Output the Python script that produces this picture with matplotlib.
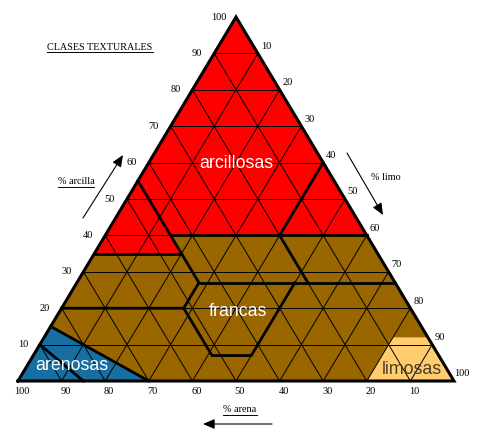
import matplotlib
matplotlib.use('Agg')
import matplotlib.pyplot as plt
from matplotlib.patches import Polygon
from matplotlib.lines import Line2D
from matplotlib.transforms import IdentityTransform

########################################################################
### data ###
########################################################################

#vertices of the texture groups as (clay %, silt %)
arcillosas_poly = [(100, 0), (35, 0), (35, 20), (40, 15), (40, 60)]
arenosas_poly = [(0, 0), (15, 0), (0, 30)]
limosas_poly = [(0, 80), (12, 80), (12, 88), (0, 100)]

#class boundaries (thick lines) as (clay %, silt %)
boundaries = [
    [(55, 0), (27, 28)],
    [(35, 0), (35, 20)],
    [(40, 15), (40, 60)],
    [(40, 40), (60, 40)],
    [(27, 53), (40, 40)],
    [(27, 28), (27, 73)],
    [(20, 0), (20, 28), (27, 28)],
    [(20, 28), (7, 41), (7, 50), (27, 50)],
    [(15, 0), (0, 30)],
    [(10, 0), (0, 15)],
]

#region labels
region_names = ['arcillosas', 'francas', 'arenosas', 'limosas']
region_colors = ['white', 'white', 'white', '#4a3c20']

#ticks
grid_values = [10, 20, 30, 40, 50, 60, 70, 80, 90]
clay_ticks = [10, 20, 30, 40, 50, 60, 70, 80, 90, 100]
silt_ticks = [10, 20, 30, 40, 50, 60, 70, 80, 90, 100]
sand_ticks = [100, 90, 80, 70, 60, 50, 40, 30, 20, 10]

########################################################################
### geometry ###
########################################################################

W_PX, H_PX = 496, 438
X_LEFT, X_RIGHT = 18, 454
Y_BASE, Y_TOP = 381, 17
SX = (X_RIGHT - X_LEFT) / 100.0
SY = (Y_BASE - Y_TOP) / 100.0


def tern(clay, silt):
    '''ternary (clay, silt) -> cartesian data coordinates'''
    return silt + clay / 2.0, clay


def px(x, y):
    '''pixel position (from top left) -> data coordinates'''
    return (x - X_LEFT) / SX, (Y_BASE - y) / SY


#region label positions (pixels, baseline)
region_pos = [(236, 168.5), (237.5, 316), (71.5, 370.5), (412, 373.5)]

########################################################################
### plot ###
########################################################################

fig = plt.figure(figsize=(W_PX / 100, H_PX / 100), dpi=100)
ax = fig.add_axes([0, 0, 1, 1])
ax.set_xlim(-X_LEFT / SX, (W_PX - X_LEFT) / SX)
ax.set_ylim(-(H_PX - Y_BASE) / SY, Y_BASE / SY)
ax.axis('off')

#background triangle (francas)
tri = [tern(0, 0), tern(0, 100), tern(100, 0)]
ax.add_patch(Polygon(tri, closed=True, fc='#996600', ec='none', zorder=1))

#coloured groups
for poly, col in [(arcillosas_poly, '#ff0000'),
                  (arenosas_poly, '#176ea0'),
                  (limosas_poly, '#ffcc70')]:
    ax.add_patch(Polygon([tern(c, s) for c, s in poly], closed=True,
                         fc=col, ec='none', zorder=2))

#grid lines
for v in grid_values:
    #clay
    p = [tern(v, 0), tern(v, 100 - v)]
    ax.plot(*zip(*p), color='k', lw=0.7, zorder=3)
    #silt
    p = [tern(0, v), tern(100 - v, v)]
    ax.plot(*zip(*p), color='k', lw=0.7, zorder=3)
    #sand
    p = [tern(0, 100 - v), tern(100 - v, 0)]
    ax.plot(*zip(*p), color='k', lw=0.7, zorder=3)

#class boundaries
for b in boundaries:
    p = [tern(c, s) for c, s in b]
    ax.plot(*zip(*p), color='k', lw=2.0, zorder=4, solid_joinstyle='miter')

#outer border
p = tri + [tri[0]]
ax.plot(*zip(*p), color='k', lw=2.2, zorder=5, solid_joinstyle='miter')

#tick labels
num_font = dict(family='Liberation Serif', fontsize=7.5, color='k')
for v in clay_ticks:
    ax.annotate(str(v), tern(v, 0), xytext=(-17, 0),
                textcoords='offset pixels', ha='center', va='center',
                **num_font)
for v in silt_ticks:
    ax.annotate(str(v), tern(100 - v, v), xytext=(8, 7),
                textcoords='offset pixels', ha='center', va='center',
                **num_font)
for v in sand_ticks:
    ax.annotate(str(v), tern(0, 100 - v), xytext=(4, -10),
                textcoords='offset pixels', ha='center', va='center',
                **num_font)

#region names
for name, col, pos in zip(region_names, region_colors, region_pos):
    ax.text(*px(*pos), name, family='Liberation Sans', fontsize=12.8,
            color=col, ha='center', va='baseline', zorder=6)

#titles and axis names
lab_font = dict(family='Liberation Serif', fontsize=7.3, color='k')
t_title = ax.text(*px(100, 47), 'CLASES TEXTURALES', ha='center',
                  va='center', **lab_font)
t_clay = ax.text(*px(76, 182), '% arcilla', ha='center', va='center',
                 **lab_font)
t_silt = ax.text(*px(386, 177), '% limo', ha='center', va='center',
                 **lab_font)
t_sand = ax.text(*px(240, 410), '% arena', ha='center', va='center',
                 **lab_font)

#arrows
arrow = dict(arrowstyle='-|>,head_length=0.7,head_width=0.3',
             color='k', lw=0.8, mutation_scale=10, shrinkA=0, shrinkB=0)
ax.annotate('', xy=px(123, 155), xytext=px(83, 218), arrowprops=arrow)
ax.annotate('', xy=px(383, 215), xytext=px(347, 153), arrowprops=arrow)
ax.annotate('', xy=px(203, 424), xytext=px(272, 424), arrowprops=arrow)

#underline texts
fig.canvas.draw()
for t in [t_title, t_clay, t_sand]:
    bb = t.get_window_extent()
    fig.add_artist(Line2D([bb.x0, bb.x1], [bb.y0, bb.y0],
                          transform=IdentityTransform(), color='k', lw=0.7))

fig.savefig('out.png', dpi=100)
